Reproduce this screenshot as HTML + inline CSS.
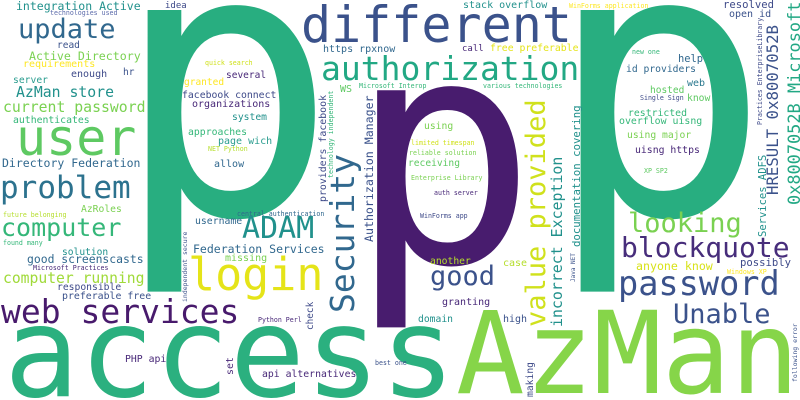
<!DOCTYPE html>
<html><head><meta charset="utf-8"><style>
html,body{margin:0;padding:0;background:#fff;width:800px;height:400px;overflow:hidden;}
svg{display:block;overflow:hidden;}
text{font-family:"DejaVu Sans Mono","Liberation Mono",monospace;}
</style></head><body>
<svg id="cloud" width="800" height="400" viewBox="0 0 800 400" xmlns="http://www.w3.org/2000/svg">
<rect width="800" height="400" fill="#ffffff"/>
</svg>
<script>
const words = ["p","p","p","access","AzMan","different","authorization","user","problem","update","login","web services","computer","ADAM","password","blockquote","looking","good","Unable","Security","value provided",
"integration Active","technologies used","idea","read","Active Directory","requirements","enough","hr","server","AzMan store","current password","authenticates","Directory Federation",
"quick search","several","granted","facebook connect","organizations","system","approaches","page wich","NET Python","allow","https rpxnow","WS","Microsoft Interop","various technologies","call","free preferable","stack overflow","WinForms application","resolved","open id","new one","help","id providers","web","hosted","Single Sign","know","restricted","overflow uisng","using major","uisng https","XP SP2","using","limited timespan","reliable solution","receiving","Enterprise Library","auth server","WinForms app",
"AzRoles","future belonging","found many","solution","good screenscasts","Microsoft Practices","computer running","responsible","preferable free","central authentication","username","Federation Services","missing","Python Perl","PHP api","api alternatives","best one",
"another","case","anyone know","possibly","Windows XP","granting","domain","high",
"providers facebook","technology independent","Authorization Manager","check","incorrect Exception","documentation covering","Java NET","making","set","independent secure","following error","Services ADFS","Practices EnterpriseLibrary","HRESULT 0x8007052B","0x8007052B Microsoft"];
const wx = [113,546,348,4,456,301,321,16,0,18,188,1,1,242,618,621,628,430,673,354,545,
16,50,165,57,29,23,71,123,13,16,3,13,2,
205,226,184,182,192,232,188,218,208,214,323,340,359,483,462,490,463,569,723,729,632,678,626,687,650,640,687,628,619,627,635,644,424,411,409,408,411,434,420,
81,3,3,62,27,33,3,57,62,237,195,193,225,258,125,262,375,
430,503,636,740,727,442,418,503,
326,333,373,313,562,580,575,533,233,187,797,766,762,778,800];
const wy = [214,214,262,396,393,42,80,155,198,38,290,323,236,238,295,257,232,285,323,313,327,
10,15,8,48,60,67,77,75,83,97,112,123,167,
65,78,85,98,107,120,135,144,151,167,52,92,88,88,51,51,8,8,8,17,54,62,72,86,93,100,101,116,124,138,153,173,129,145,155,166,180,195,218,
212,217,245,255,263,270,283,290,299,216,224,253,261,322,362,377,365,
264,266,270,266,274,305,322,322,
202,178,242,330,327,247,282,397,375,302,382,237,125,195,205];
const wsize = [373,373,314,125,114,50,33,50,31,27,45,33,25,30,33.6,28,27,27,27,33,27,
11.5,6.6,9,9.5,11.6,10,10,9.5,9.7,14.8,14.8,9.8,11.5,
6.6,9.5,9.5,9.8,10,9.7,9.8,10,6.6,10,10,10,6.6,6.6,9,9.8,10,6.6,10.6,10,6.6,10.4,9.7,10,9.5,6.6,9.7,9.8,9.9,9.7,9.8,6.6,9.7,6.6,6.6,9.6,6.6,6.6,6.6,
9.7,6.6,6.6,9.6,11.4,6.6,14.7,9.7,9.9,6.6,9.8,11.5,10,6.6,9.8,9.8,6.6,
9.7,10,11.6,10.6,6.6,10,9.7,10,
9.9,6.6,11.6,9.4,14.9,10.7,6,9.7,9.9,6.5,6.5,10.5,6.6,15.7,16.9];
const wcolor = ["#28ae80","#28ae80","#481c6e","#2bb07f","#86d549","#3b528b","#22a884","#5ec962","#2c728e","#31688e","#e5e419","#481a6c","#35b779","#21918c","#3b528b","#472d7b","#7ad151","#3b528b","#3b528b","#31688e","#d0e11c",
"#21918c","#5c6bab","#3e4a89","#3b528b","#7ad151","#fde725","#3e4a89","#3b528b","#2a9d8f","#21918c","#7ad151","#35b779","#31688e",
"#d0e11c","#482878","#fde725","#3e4a89","#482878","#21918c","#35b779","#2a9d8f","#b5de2b","#31688e","#31688e","#5ec962","#35b779","#35b779","#482878","#e5e419","#21918c","#fde725","#3e4a89","#3b528b","#35b779","#31688e","#31688e","#2a788e","#5ec962","#3e4a89","#5ec962","#35b779","#35b779","#7ad151","#482878","#5ec962","#7ad151","#d0e11c","#7ad151","#5ec962","#7ad151","#482878","#3e4a89",
"#7ad151","#b5de2b","#35b779","#21918c","#31688e","#482878","#a0da39","#3e4a89","#3b528b","#31688e","#31688e","#31688e","#7ad151","#482878","#482878","#482878","#3b528b",
"#b5de2b","#b5de2b","#d8e219","#3e4a89","#fde725","#482878","#21918c","#3b528b",
"#3e4a89","#35b779","#3b528b","#3e4a89","#21918c","#21918c","#3b528b","#3e4a89","#482878","#3b528b","#3b528b","#21918c","#3e4a89","#3b528b","#22a884"];
const wrot = [0,0,0,0,0,0,0,0,0,0,0,0,0,0,0,0,0,0,0,1,1,
0,0,0,0,0,0,0,0,0,0,0,0,0,
0,0,0,0,0,0,0,0,0,0,0,0,0,0,0,0,0,0,0,0,0,0,0,0,0,0,0,0,0,0,0,0,0,0,0,0,0,0,0,
0,0,0,0,0,0,0,0,0,0,0,0,0,0,0,0,0,
0,0,0,0,0,0,0,0,
1,1,1,1,1,1,1,1,1,1,1,1,1,1,1];

const svg = document.getElementById('cloud');
const NS = 'http://www.w3.org/2000/svg';
for (let i = 0; i < words.length; i++) {
  const t = document.createElementNS(NS, 'text');
  
  
  t.setAttribute('font-size', wsize[i]);
  t.setAttribute('fill', wcolor[i]);
  if (wrot[i]) {
    t.setAttribute('x', 0);
    t.setAttribute('y', 0);
    t.setAttribute('transform', 'translate(' + wx[i] + ',' + wy[i] + ') rotate(-90)');
  } else {
    t.setAttribute('x', wx[i]);
    t.setAttribute('y', wy[i]);
  }
  t.textContent = words[i];
  svg.appendChild(t);
}
</script>
</body></html>
